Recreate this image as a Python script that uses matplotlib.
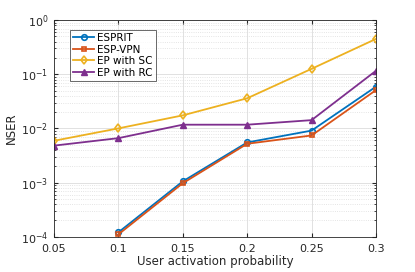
import matplotlib
matplotlib.use("Agg")
import matplotlib.pyplot as plt
from matplotlib.ticker import LogLocator, NullFormatter

x = [0.05, 0.1, 0.15, 0.2, 0.25, 0.3]
x_esprit = [0.1, 0.15, 0.2, 0.25, 0.3]
esprit = [1.2e-4, 1.05e-3, 5.5e-3, 9.1e-3, 0.059]
esp_vpn = [1.1e-4, 9.7e-4, 5.2e-3, 7.4e-3, 0.051]
ep_sc = [5.9e-3, 1.0e-2, 0.0174, 0.036, 0.126, 0.45]
ep_rc = [4.8e-3, 6.6e-3, 0.0117, 0.0117, 0.0142, 0.116]
xticks = [0.05, 0.1, 0.15, 0.2, 0.25, 0.3]
xticklabels = ["0.05", "0.1", "0.15", "0.2", "0.25", "0.3"]

plt.rcParams['font.family'] = ['DejaVu Sans']
fig = plt.figure(figsize=(4.15, 2.72), dpi=100)
ax = fig.add_axes([0.130, 0.130, 0.776, 0.796])

ax.plot(x_esprit, esprit, color='#0072BD', marker='o', ms=4, mfc='none', mew=1.2, lw=1.3, label='ESPRIT')
ax.plot(x_esprit, esp_vpn, color='#D95319', marker='s', ms=3.5, mfc='none', mew=1.2, lw=1.3, label='ESP-VPN')
ax.plot(x, ep_sc, color='#EDB120', marker='d', ms=4.5, mfc='none', mew=1.2, lw=1.3, label='EP with SC')
ax.plot(x, ep_rc, color='#7E2F8E', marker='^', ms=4.5, mfc='#7E2F8E', mew=1.0, lw=1.3, label='EP with RC')

ax.set_yscale('log')
ax.set_xlim(0.05, 0.3)
ax.set_ylim(1e-4, 1)
ax.set_xticks(xticks)
ax.set_xticklabels(xticklabels)
ax.yaxis.set_major_locator(LogLocator(base=10, numticks=10))
ax.yaxis.set_minor_locator(LogLocator(base=10, subs=range(2, 10), numticks=20))
ax.yaxis.set_minor_formatter(NullFormatter())

ax.grid(True, which='major', color='#dcdcdc', lw=0.6, ls='-')
ax.grid(True, which='minor', axis='y', color='#dcdcdc', lw=0.6, ls=':')
ax.set_axisbelow(True)

ax.tick_params(which='both', direction='in', top=True, right=True, labelsize=8, colors='#262626')
ax.tick_params(which='major', length=3)
ax.tick_params(which='minor', length=1.5)
ax.tick_params(axis='x', pad=5)
ax.tick_params(axis='y', pad=4)
for s in ax.spines.values():
    s.set_color('#262626')
    s.set_linewidth(0.6)

ax.set_xlabel('User activation probability', fontsize=8.5, color='#262626', labelpad=1)
ax.set_ylabel('NSER', fontsize=8.5, color='#262626', labelpad=2)

leg = ax.legend(loc='upper left', bbox_to_anchor=(0.05, 0.955), fontsize=7.5, frameon=True,
                fancybox=False, edgecolor='#262626', handlelength=2.0, borderpad=0.3,
                labelspacing=0.15, handletextpad=0.3, borderaxespad=0)
leg.get_frame().set_linewidth(0.6)

fig.savefig('out.png', dpi=100)
